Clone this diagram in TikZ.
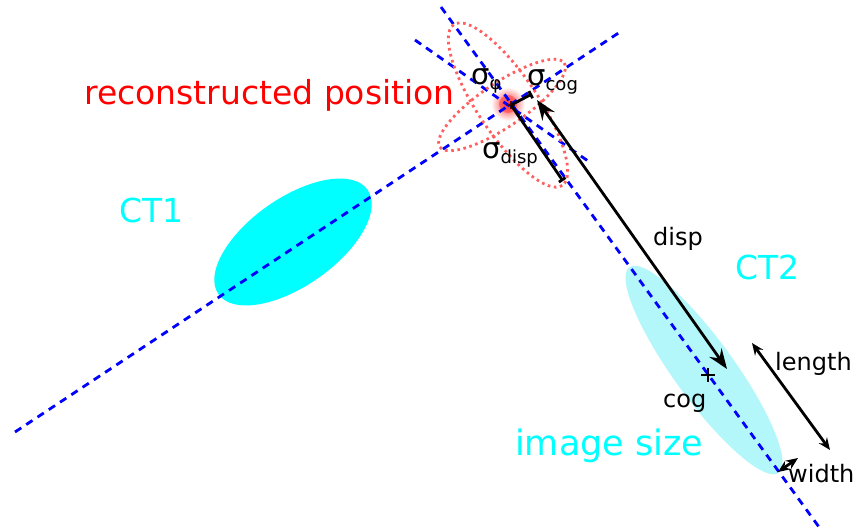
\documentclass[tikz,border=0pt]{standalone}
\usepackage{fontspec}
\setmainfont{DejaVu Sans}
\usetikzlibrary{arrows.meta,calc}
\definecolor{aqua}{RGB}{0,255,255}
\definecolor{lightaqua}{RGB}{180,247,250}
\definecolor{dotred}{RGB}{255,95,95}
\tikzset{
  bigtip/.tip={Stealth[length=20pt,width=15pt,inset=7pt]},
  smalltip/.tip={Stealth[length=12pt,width=10pt,inset=4pt]}
}
\begin{document}
\begin{tikzpicture}[x=1pt,y=-1pt,
  axisline/.style={blue, line width=2.8pt, dash pattern=on 7.5pt off 6pt},
  errell/.style={dotred, line width=2.8pt, dash pattern=on 2.6pt off 3.6pt},
  lbl/.style={inner sep=0pt, anchor=base west},
  big/.style={lbl, font=\fontsize{33}{36}\selectfont},
  small/.style={lbl, font=\fontsize{24}{28}\selectfont},
  marker/.style={black, line width=2.8pt}
]
\useasboundingbox (0,0) rectangle (856,532);

% key points
\coordinate (rp) at (511,105);
\coordinate (cog) at (708,375);
\coordinate (l1a) at (15,432);
\coordinate (l1b) at (620,32);
\coordinate (l2a) at (441,7);
\coordinate (l2b) at (819,527);
\coordinate (l3a) at (415,40);
\coordinate (l3b) at (588,161);
\coordinate (scog) at (532,94);
\coordinate (sdisp) at (563,181);
\coordinate (dispA) at (537,100);
\coordinate (dispB) at (727,369);
\coordinate (lenA) at (752,343);
\coordinate (lenB) at (830,450);
\coordinate (widA) at (778,472);
\coordinate (widB) at (798,458);

% camera images
\fill[aqua] (293,242) ellipse[x radius=91, y radius=44, rotate=35];
\fill[lightaqua] (704,370) ellipse[x radius=127, y radius=30, rotate=-54];

% reconstructed position blob
\shade[inner color=red!80, outer color=white] (508,104) circle (17);
\fill[red!75, opacity=0.55] (508,104) circle (9);

% axes
\draw[axisline] (l1a) -- (l1b);
\draw[axisline] (l2a) -- (l2b);
\draw[axisline] (l3a) -- (l3b);

% error ellipses
\draw[errell] (508,105) ellipse[x radius=97, y radius=30, rotate=-56];
\draw[errell] (502,105) ellipse[x radius=75, y radius=22, rotate=34];

% marks
\draw[red!40!black, line width=1.5pt] ($(rp)+(-4,0)$) -- ($(rp)+(4,0)$) ($(rp)+(0,-4)$) -- ($(rp)+(0,4)$);
\draw[black, line width=1.6pt] ($(cog)+(-7,0)$) -- ($(cog)+(7,0)$) ($(cog)+(0,-7)$) -- ($(cog)+(0,7)$);

% black measures
\draw[marker, -{Bar[width=8pt]}] (rp) -- (scog);
\draw[marker, -{Bar[width=8pt]}] (rp) -- (sdisp);
\draw[marker, bigtip-bigtip] (dispA) -- (dispB);
\draw[marker, smalltip-smalltip] (lenA) -- (lenB);
\draw[marker, smalltip-smalltip] (widA) -- (widB);

% labels
\node[big, text=red] (trp) at (84,105) {reconstructed position};
\node[big, text=aqua] (tct1) at (119,222) {CT1};
\node[big, text=aqua] (tct2) at (735,279) {CT2};
\node[lbl, font=\fontsize{35}{38}\selectfont, text=aqua] (timg) at (515,455) {image size};
\node[small] (tdisp) at (653,245) {disp};
\node[small] (tlen) at (775,370) {length};
\node[small] (twid) at (788,482) {width};
\node[small] (tcog) at (663,407) {cog};
\node[lbl] (tsphi) at (471,85) {\fontsize{29}{32}\selectfont σ\raisebox{-5pt}{\fontsize{18}{20}\selectfont φ}};
\node[lbl] (tscog) at (527,86) {\fontsize{29}{32}\selectfont σ\raisebox{-5pt}{\fontsize{18}{20}\selectfont cog}};
\node[lbl] (tsdisp) at (482,158) {\fontsize{29}{32}\selectfont σ\raisebox{-5pt}{\fontsize{18}{20}\selectfont disp}};
\end{tikzpicture}
\end{document}
